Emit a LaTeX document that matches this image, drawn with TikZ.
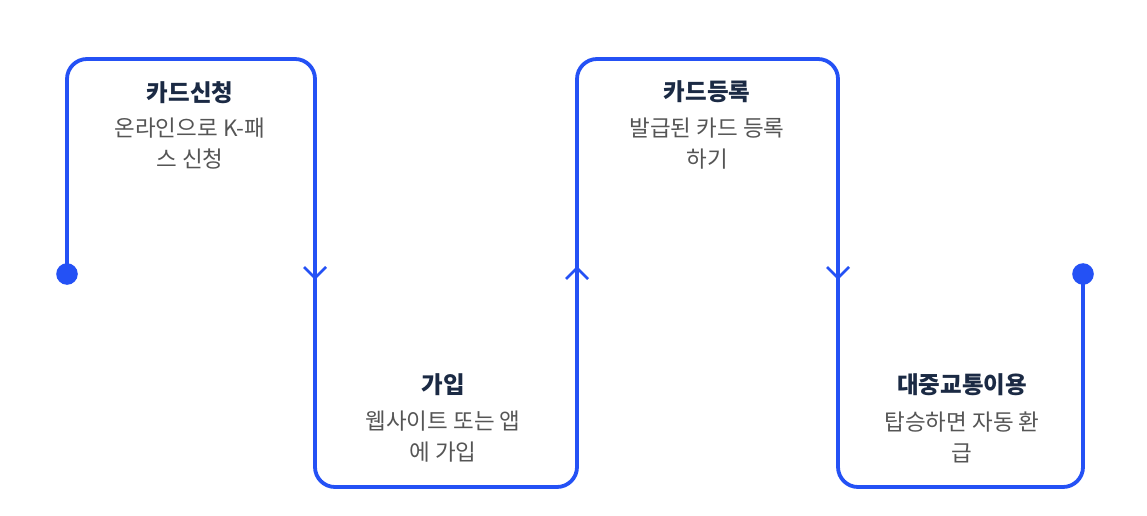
\documentclass[tikz,border=0pt]{standalone}
\usepackage{fontspec}
\setmainfont{Noto Sans CJK KR}
\definecolor{flow}{HTML}{2451F5}
\definecolor{ttl}{HTML}{1B2A44}
\definecolor{bdy}{HTML}{555555}
\tikzset{
  flowline/.style={draw=flow, line width=3.8pt, rounded corners=20pt},
  chev/.style={draw=flow, line width=2.8pt, line join=miter},
  dotmark/.style={fill=flow},
  ttlnode/.style={text=ttl, font=\fontsize{23.5}{27}\selectfont\bfseries, inner sep=0pt, anchor=center},
  bdynode/.style={text=bdy, font=\fontsize{22.5}{31}\selectfont, align=center, inner sep=0pt, anchor=center}
}
\begin{document}
\begin{tikzpicture}[x=1pt,y=-1pt]
\useasboundingbox (0,0) rectangle (1147,516);
\coordinate (start) at (67,274);
\coordinate (c1) at (67,59);
\coordinate (c2) at (315,59);
\coordinate (c3) at (315,487);
\coordinate (c4) at (577,487);
\coordinate (c5) at (577,59);
\coordinate (c6) at (838,59);
\coordinate (c7) at (838,487);
\coordinate (c8) at (1083,487);
\coordinate (end) at (1083,274);
\draw[flowline] (start) -- (c1) -- (c2) -- (c3) -- (c4) -- (c5) -- (c6) -- (c7) -- (c8) -- (end);
\fill[dotmark] (start) circle (10.8);
\fill[dotmark] (end) circle (10.8);
% chevrons
\draw[chev] (304,267) -- (315,278) -- (326,267);
\draw[chev] (566,279) -- (577,268) -- (588,279);
\draw[chev] (827,267) -- (838,278) -- (849,267);
% texts
\node[ttlnode] (t1) at (190,93) {카드신청};
\node[bdynode] (b1) at (190,144) {온라인으로 K-패\\스 신청};
\node[ttlnode] (t2) at (443,385) {가입};
\node[bdynode] (b2) at (443,437) {웹사이트 또는 앱\\에 가입};
\node[ttlnode] (t3) at (707,92) {카드등록};
\node[bdynode] (b3) at (707,144) {발급된 카드 등록\\하기};
\node[ttlnode] (t4) at (962,385) {대중교통이용};
\node[bdynode] (b4) at (962,437) {탑승하면 자동 환\\급};
\end{tikzpicture}
\end{document}
